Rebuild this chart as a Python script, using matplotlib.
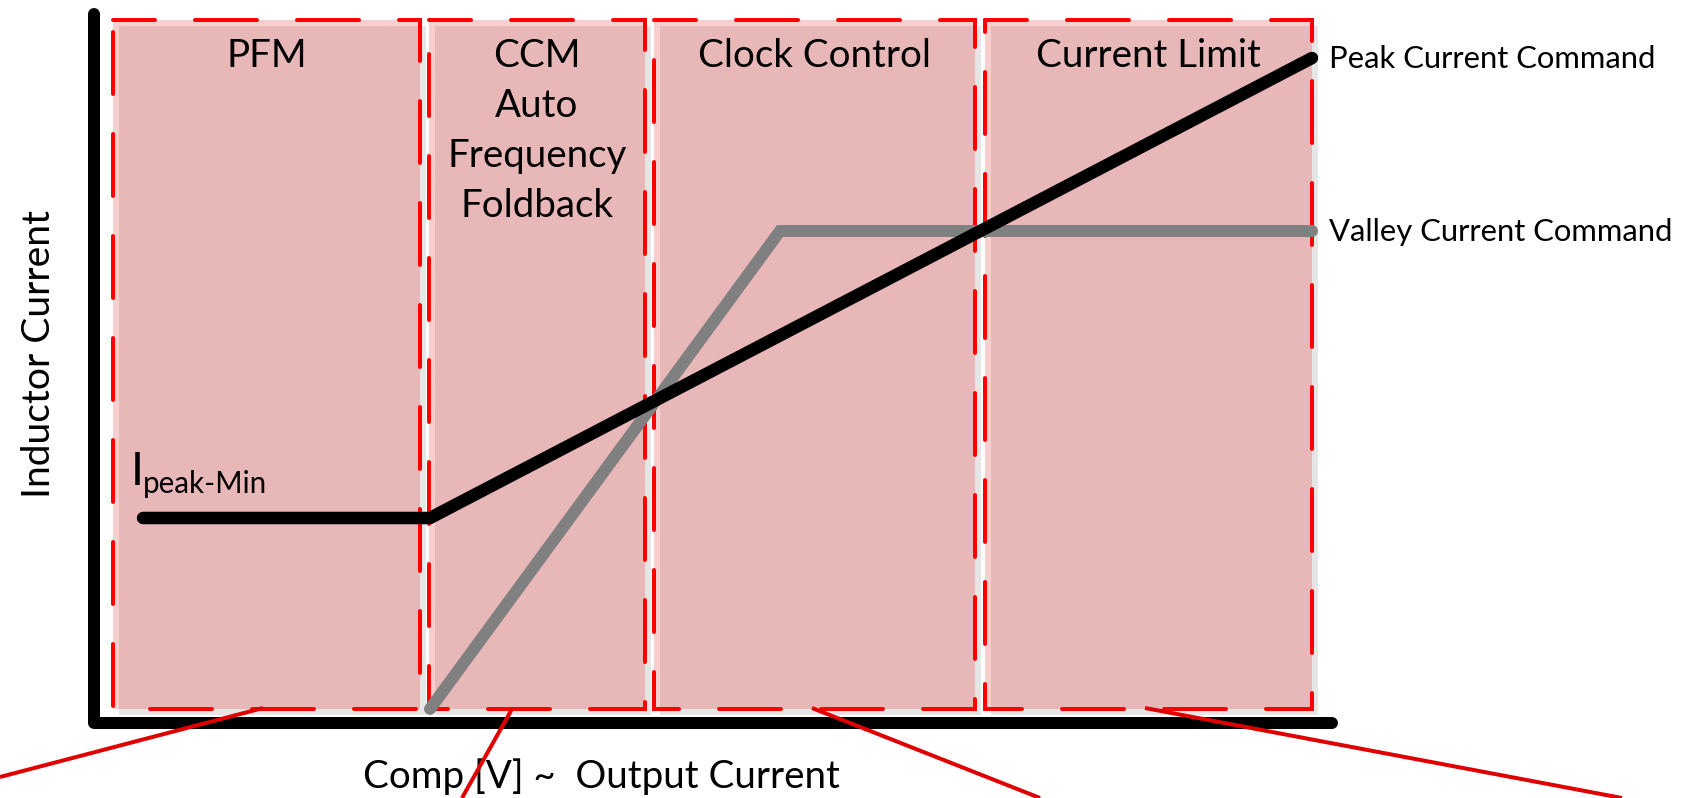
import matplotlib
matplotlib.use("Agg")
import matplotlib.pyplot as plt
from matplotlib.patches import Rectangle

plt.rcParams['lines.scale_dashes'] = False
FONT = ['Lato', 'DejaVu Sans']

# ---- data (canvas units, y grows downward) ----
region_titles = [["PFM"], ["CCM", "Auto", "Frequency", "Foldback"], ["Clock Control"], ["Current Limit"]]
region_left = [113, 429, 654, 985]
region_right = [420, 645, 975, 1312]
region_top = 20
region_bottom = 709

peak_x = [143, 430, 1312]
peak_y = [518, 518, 58]
valley_x = [430, 780, 1312]
valley_y = [709, 231, 231]

axis_x = [94, 94, 1332]
axis_y = [14, 723, 723]

callout_start_x = [263, 512, 812, 1145]
callout_start_y = [708, 709, 708, 708]
callout_end_x = [0, 462, 1040, 1622]
callout_end_y = [777, 798, 798, 798]

peak_label = "Peak Current Command"
valley_label = "Valley Current Command"
ylabel = "Inductor Current"
xlabel = "Comp [V] ~  Output Current"

W, H = 1684, 798
fig = plt.figure(figsize=(W / 72, H / 72), dpi=72)
ax = fig.add_axes([0, 0, 1, 1])
ax.set_xlim(0, W)
ax.set_ylim(H, 0)
ax.axis('off')

off = 6
for titles, l, r in zip(region_titles, region_left, region_right):
    w = r - l
    h = region_bottom - region_top
    ax.add_patch(Rectangle((l + off, region_top + off), w, h, facecolor='#E6E6E6', edgecolor='none', zorder=1))
    ax.add_patch(Rectangle((l, region_top), w, h, facecolor='#F9CECE', edgecolor='none', zorder=2))
    ax.add_patch(Rectangle((l + off, region_top + off), w - off, h - off, facecolor='#E8B7B8', edgecolor='none', zorder=3))
    ax.add_patch(Rectangle((l, region_top), w, h, facecolor='none', edgecolor='#FF0000', lw=4,
                           linestyle=(20, (62, 40)), capstyle='round', zorder=4))
    cx = (l + r) / 2
    for i, t in enumerate(titles):
        ax.text(cx, 67 + 50 * i, t, ha='center', va='baseline', fontsize=38.5, family=FONT, zorder=8)

ax.plot(valley_x, valley_y, color='#808080', lw=12, solid_capstyle='round', solid_joinstyle='miter', zorder=5)
ax.plot(peak_x, peak_y, color='black', lw=12.5, solid_capstyle='round', solid_joinstyle='miter', zorder=6)
ax.plot(axis_x, axis_y, color='black', lw=12, solid_capstyle='round', solid_joinstyle='round', zorder=6)

for sx, sy, ex, ey in zip(callout_start_x, callout_start_y, callout_end_x, callout_end_y):
    ax.plot([sx, ex], [sy, ey], color='#E00000', lw=4, solid_capstyle='butt', zorder=9)

ax.text(1329, 68, peak_label, ha='left', va='baseline', fontsize=31, family=FONT, zorder=8)
ax.text(1329, 241, valley_label, ha='left', va='baseline', fontsize=31, family=FONT, zorder=8)

ax.text(131, 485, "I", ha='left', va='baseline', fontsize=47, family=FONT, zorder=8)
ax.text(143, 493, "peak-Min", ha='left', va='baseline', fontsize=29.5, family=FONT, zorder=8)

ax.text(50, 354, ylabel, ha='center', va='baseline', rotation=90, fontsize=39, family=FONT, zorder=8,
        rotation_mode='anchor')
ax.text(363, 788, xlabel, ha='left', va='baseline', fontsize=38.5, family=FONT, zorder=8)

fig.savefig('out.png', dpi=72)
